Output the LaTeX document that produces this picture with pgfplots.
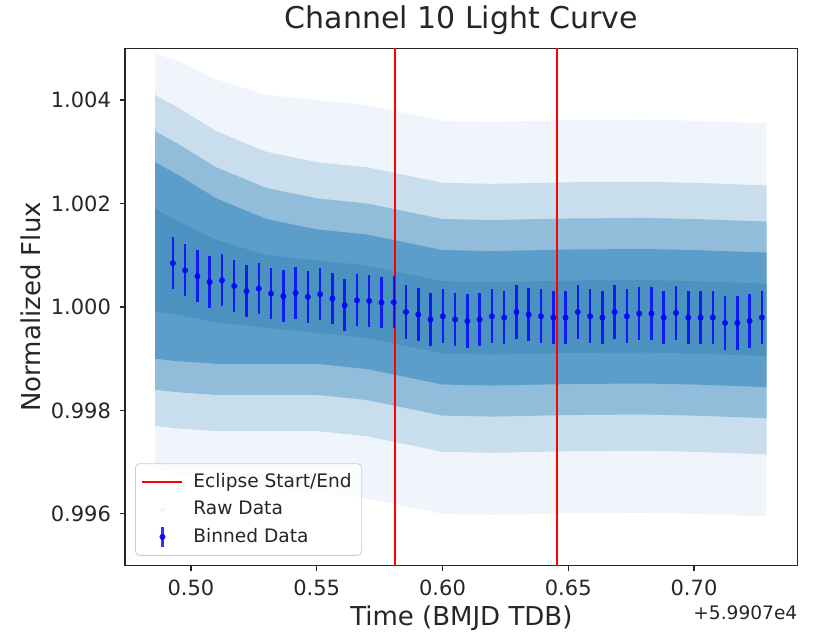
\documentclass[border=0pt]{standalone}
\usepackage{pgfplots}
\pgfplotsset{compat=1.18}
\usepackage{pgfplotstable}
\usepgfplotslibrary{fillbetween}
\usepackage{fontspec}
\setmainfont{DejaVu Sans}
\definecolor{tabblue}{HTML}{1F77B4}
\definecolor{txt}{HTML}{262626}

% envelope of the raw-data cloud (layers of increasing density)
\pgfplotstableread{
x u1 l1 u2 l2 u3 l3 u4 l4 u5 l5
0.4857 1.00490 0.99690 1.00410 0.99770 1.00340 0.99840 1.00280 0.99900 1.00190 0.99990
0.4950 1.00475 0.99675 1.00385 0.99765 1.00315 0.99835 1.00255 0.99895 1.00165 0.99985
0.5100 1.00440 0.99660 1.00340 0.99760 1.00270 0.99830 1.00210 0.99890 1.00130 0.99970
0.5300 1.00410 0.99650 1.00300 0.99760 1.00230 0.99830 1.00170 0.99890 1.00100 0.99960
0.5500 1.00400 0.99640 1.00280 0.99760 1.00210 0.99830 1.00150 0.99890 1.00090 0.99950
0.5700 1.00390 0.99630 1.00270 0.99750 1.00200 0.99820 1.00140 0.99880 1.00080 0.99940
0.5800 1.00380 0.99620 1.00260 0.99740 1.00190 0.99810 1.00130 0.99870 1.00070 0.99930
0.6000 1.00360 0.99600 1.00240 0.99720 1.00170 0.99790 1.00110 0.99850 1.00050 0.99910
0.6200 1.00358 0.99598 1.00238 0.99718 1.00168 0.99788 1.00108 0.99848 1.00048 0.99908
0.6500 1.00361 0.99601 1.00241 0.99721 1.00171 0.99791 1.00111 0.99851 1.00051 0.99911
0.6800 1.00362 0.99602 1.00242 0.99722 1.00172 0.99792 1.00112 0.99852 1.00052 0.99912
0.7000 1.00360 0.99600 1.00240 0.99720 1.00170 0.99790 1.00110 0.99850 1.00050 0.99910
0.7289 1.00355 0.99595 1.00235 0.99715 1.00165 0.99785 1.00105 0.99845 1.00045 0.99905
}\cloud

% binned data
\pgfplotstableread{
x y e
0.49280 1.000849 0.00050
0.49768 1.000708 0.00050
0.50256 1.000593 0.00050
0.50744 1.000483 0.00050
0.51232 1.000515 0.00050
0.51720 1.000405 0.00050
0.52207 1.000303 0.00050
0.52695 1.000355 0.00050
0.53183 1.000259 0.00050
0.53671 1.000207 0.00050
0.54159 1.000270 0.00050
0.54647 1.000193 0.00050
0.55135 1.000245 0.00050
0.55623 1.000162 0.00050
0.56111 1.000033 0.00050
0.56599 1.000129 0.00050
0.57086 1.000116 0.00050
0.57574 1.000085 0.00050
0.58062 1.000091 0.00050
0.58550 0.999903 0.00052
0.59038 0.999853 0.00052
0.59526 0.999757 0.00052
0.60014 0.999820 0.00052
0.60502 0.999757 0.00052
0.60990 0.999724 0.00052
0.61478 0.999757 0.00052
0.61965 0.999820 0.00052
0.62453 0.999795 0.00052
0.62941 0.999903 0.00052
0.63429 0.999853 0.00052
0.63917 0.999820 0.00052
0.64405 0.999795 0.00052
0.64893 0.999795 0.00052
0.65381 0.999903 0.00052
0.65869 0.999820 0.00052
0.66357 0.999795 0.00052
0.66844 0.999903 0.00052
0.67332 0.999820 0.00052
0.67820 0.999873 0.00052
0.68308 0.999873 0.00052
0.68796 0.999795 0.00052
0.69284 0.999884 0.00052
0.69772 0.999795 0.00052
0.70260 0.999795 0.00052
0.70748 0.999795 0.00052
0.71236 0.999691 0.00052
0.71723 0.999691 0.00052
0.72211 0.999730 0.00052
0.72699 0.999795 0.00052
}\binned

\begin{document}
\begin{tikzpicture}
\begin{axis}[
  scale only axis,
  width=336.4pt, height=258.7pt,
  xmin=0.47376, xmax=0.74123, ymin=0.995, ymax=1.005,
  xtick={0.50,0.55,0.60,0.65,0.70},
  xticklabels={0.50,0.55,0.60,0.65,0.70},
  ytick={0.996,0.998,1.000,1.002,1.004},
  yticklabels={0.996,0.998,1.000,1.002,1.004},
  xtick pos=bottom, ytick pos=left,
  tick align=outside, major tick length=2.5pt,
  every tick/.style={txt, line width=0.6pt},
  axis line style={txt, line width=0.6pt},
  tick label style={font=\fontsize{10.5}{12}\selectfont, text=txt},
  xticklabel style={yshift=-1pt},
  yticklabel style={xshift=-1pt},
  xlabel={Time (BMJD TDB)},
  ylabel={Normalized Flux},
  label style={font=\fontsize{13}{15}\selectfont, text=txt},
  xlabel style={yshift=2pt},
  ylabel style={yshift=-2pt},
  title={Channel 10 Light Curve},
  title style={font=\fontsize{15}{18}\selectfont, text=txt, yshift=-3pt},
  legend style={
    at={(axis description cs:0.015,0.019)}, anchor=south west,
    draw=black!20, rounded corners=2pt, fill=white, fill opacity=0.8,
    text opacity=1, font=\fontsize{9.3}{11}\selectfont, text=txt,
    row sep=1.2pt, column sep=3pt, inner xsep=3pt, inner ysep=3pt},
  legend cell align=left,
]
% raw data cloud
\addplot[draw=none, name path=u1, forget plot] table[x=x,y=u1]{\cloud};
\addplot[draw=none, name path=l1, forget plot] table[x=x,y=l1]{\cloud};
\addplot[draw=none, name path=u2, forget plot] table[x=x,y=u2]{\cloud};
\addplot[draw=none, name path=l2, forget plot] table[x=x,y=l2]{\cloud};
\addplot[draw=none, name path=u3, forget plot] table[x=x,y=u3]{\cloud};
\addplot[draw=none, name path=l3, forget plot] table[x=x,y=l3]{\cloud};
\addplot[draw=none, name path=u4, forget plot] table[x=x,y=u4]{\cloud};
\addplot[draw=none, name path=l4, forget plot] table[x=x,y=l4]{\cloud};
\addplot[draw=none, name path=u5, forget plot] table[x=x,y=u5]{\cloud};
\addplot[draw=none, name path=l5, forget plot] table[x=x,y=l5]{\cloud};
\addplot[fill=tabblue, fill opacity=0.07, draw=none, forget plot] fill between[of=u1 and l1];
\addplot[fill=tabblue, fill opacity=0.18, draw=none, forget plot] fill between[of=u2 and l2];
\addplot[fill=tabblue, fill opacity=0.33, draw=none, forget plot] fill between[of=u3 and l3];
\addplot[fill=tabblue, fill opacity=0.45, draw=none, forget plot] fill between[of=u4 and l4];
\addplot[fill=tabblue, fill opacity=0.30, draw=none, forget plot] fill between[of=u5 and l5];

% eclipse start / end
\addplot[red, line width=1pt,
  legend image code/.code={\draw[red, line width=1pt] (0pt,0pt) -- (20pt,0pt);}]
  coordinates {(0.5811,0.995) (0.5811,1.005)};
\addlegendentry{Eclipse Start/End}
\addplot[red, line width=1pt, forget plot] coordinates {(0.6454,0.995) (0.6454,1.005)};

% raw data legend entry
\addlegendimage{legend image code/.code={\fill[tabblue, opacity=0.05] (10pt,0pt) circle (1pt);}}
\addlegendentry{Raw Data}

% binned data
\addplot[blue, opacity=0.8, mark=*, mark size=1.3pt, only marks,
  legend image code/.code={%
    \draw[blue, opacity=0.8, line width=1.25pt] (10pt,-5pt) -- (10pt,5pt);
    \fill[blue, opacity=0.8] (10pt,0pt) circle (1.3pt);},
  error bars/.cd, y dir=both, y explicit,
  error mark=none, error bar style={line width=1.25pt, blue}]
  table[x=x, y=y, y error=e]{\binned};
\addlegendentry{Binned Data}
\end{axis}
\node[anchor=north east, inner sep=0pt, font=\fontsize{9.3}{11}\selectfont, text=txt]
  at ([yshift=-20pt]current axis.south east) {+5.9907e4};
\pgfresetboundingbox
\path[use as bounding box]
  ([shift={(-62.5pt,-34.15pt)}]current axis.south west) rectangle
  ([shift={(8.15pt,24.15pt)}]current axis.north east);
\end{tikzpicture}
\end{document}
